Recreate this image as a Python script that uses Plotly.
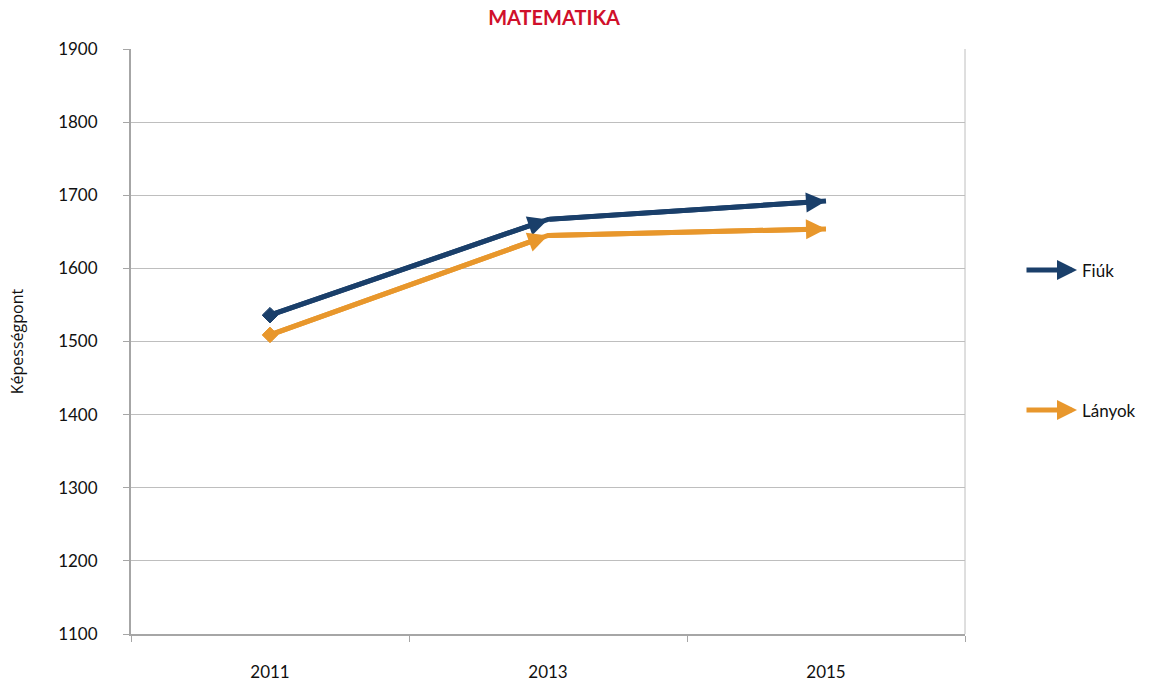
import plotly.graph_objects as go

years = ["2011", "2013", "2015"]
fiuk = [1536, 1667, 1692]
lanyok = [1509, 1645, 1654]
y_ticks = [1100, 1200, 1300, 1400, 1500, 1600, 1700, 1800, 1900]

navy = "#1A3F6A"
orange = "#E8972C"
grid = "#BEBEBE"
axis_col = "#A6A6A6"

fig = go.Figure()

for name, vals, col in [("Fiúk", fiuk, navy), ("Lányok", lanyok, orange)]:
    fig.add_trace(go.Scatter(
        x=years, y=vals, name=name, mode="lines",
        line=dict(color=col, width=5),
        showlegend=False,
    ))
    # diamond at the starting point
    fig.add_trace(go.Scatter(
        x=years[:1], y=vals[:1], mode="markers",
        marker=dict(symbol="diamond", size=12, color=col, opacity=1,
                    line=dict(width=1, color=col)),
        showlegend=False, hoverinfo="skip",
    ))
    # arrowhead at the end of every segment
    for i in range(1, len(vals)):
        fig.add_annotation(
            x=i, y=vals[i], xref="x", yref="y",
            ax=i - 1, ay=vals[i - 1], axref="x", ayref="y",
            text="", showarrow=True, arrowhead=2, arrowsize=0.8,
            arrowwidth=5, arrowcolor=col, standoff=0,
        )

# legend drawn as arrows beside the plot
L = 131
W = 834
B = 634
H = 585
for name, col, py in [("Fiúk", navy, 270), ("Lányok", orange, 410)]:
    yp = (B - py) / H
    fig.add_annotation(
        x=(1077 - L) / W, y=yp, xref="paper", yref="paper",
        ax=-52, ay=0, axref="pixel", ayref="pixel",
        text="", showarrow=True, arrowhead=2, arrowsize=0.8,
        arrowwidth=5, arrowcolor=col,
    )
    fig.add_annotation(
        x=(1080 - L) / W, y=yp, xref="paper", yref="paper",
        text=name, showarrow=False, xanchor="left", yanchor="middle",
        font=dict(family="Lato", size=17, color="#111111"),
    )

fig.update_layout(
    width=1152, height=684,
    margin=dict(l=131, r=187, t=49, b=50),
    paper_bgcolor="white", plot_bgcolor="white",
    title=dict(text="<b>MATEMATIKA</b>", x=0.481, xanchor="center", y=0.973,
               yanchor="middle",
               font=dict(family="Lato", size=20, color="#D0102B")),
    xaxis=dict(
        type="category", range=[-0.5, 2.5], tickson="boundaries",
        ticks="outside", ticklen=6, tickcolor=axis_col,
        showline=True, linecolor=axis_col, linewidth=2,
        showgrid=False, ticklabelstandoff=22, automargin=False,
        tickfont=dict(family="Lato", size=17, color="#111111"),
    ),
    yaxis=dict(
        range=[1100, 1900], tickvals=y_ticks,
        ticks="outside", ticklen=6, tickcolor=axis_col,
        showline=True, linecolor=axis_col, linewidth=2,
        showgrid=True, gridcolor=grid, gridwidth=1,
        zeroline=False, ticklabelstandoff=22, automargin=False,
        tickfont=dict(family="Lato", size=17, color="#111111"),
        title=dict(text="Képességpont", standoff=31,
                   font=dict(family="Open Sans", size=16, color="#111111")),
    ),
    shapes=[dict(type="line", xref="paper", yref="paper", x0=1, x1=1, y0=0, y1=1,
                 line=dict(color=grid, width=1))],
)

fig.write_html("out.html")
